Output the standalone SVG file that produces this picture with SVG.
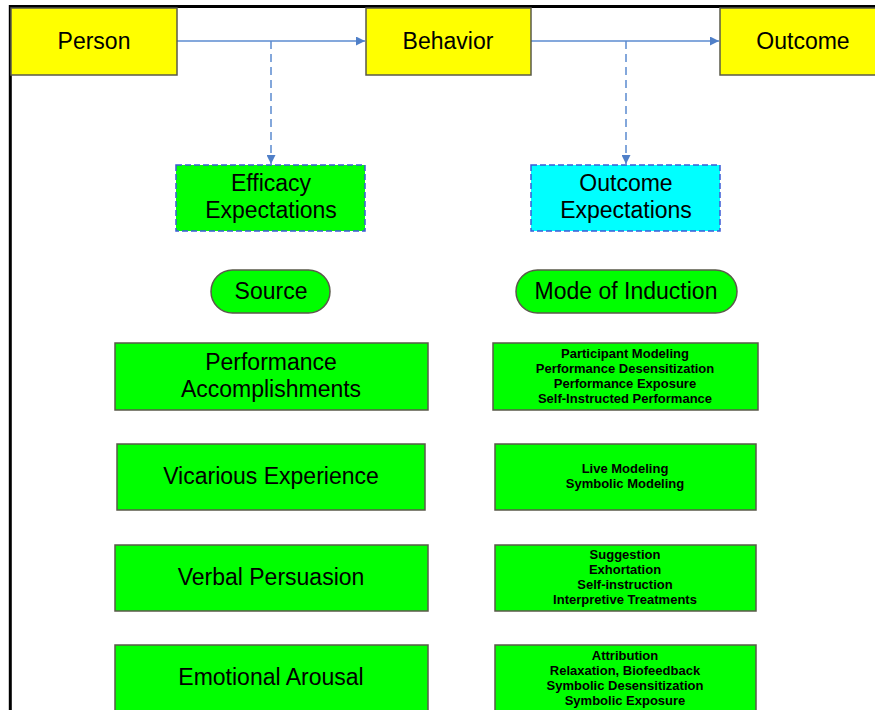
<svg xmlns="http://www.w3.org/2000/svg" width="875" height="710" viewBox="0 0 875 710">
<style>
.box{stroke:#5a5a4a;stroke-width:1.5}
.y{fill:#FFFF00}
.g{fill:#00FF00}
.c{fill:#00FFFF}
.dash{stroke:#3B5BD6;stroke-width:1.5;stroke-dasharray:6 3}
.t{font-family:"Liberation Sans",Arial,sans-serif;font-size:23px;fill:#000;text-anchor:middle}
.s{font-family:"Liberation Sans",Arial,sans-serif;font-size:13px;font-weight:bold;fill:#000;text-anchor:middle}
.conn{stroke:#5B8BD0;stroke-width:1.5;fill:none}
.dc{stroke-dasharray:8 5}
</style>
<defs>
<marker id="ah" viewBox="0 0 10 10" refX="10" refY="5" markerWidth="9" markerHeight="9" markerUnits="userSpaceOnUse" orient="auto">
<path d="M0,0 L10,5 L0,10 z" fill="#4F7FC8"/>
</marker>
</defs>
<rect x="0" y="0" width="875" height="710" fill="#fff"/>
<g id="frame">
<line x1="9" y1="6.5" x2="875" y2="6.5" stroke="#000" stroke-width="3"/>
<line x1="10.3" y1="5" x2="10.3" y2="710" stroke="#000" stroke-width="3"/>
</g>
<g id="connectors">
<line class="conn" x1="177" y1="41" x2="365" y2="41" marker-end="url(#ah)"/>
<line class="conn" x1="531" y1="41" x2="719" y2="41" marker-end="url(#ah)"/>
<line class="conn dc" x1="271" y1="41" x2="271" y2="164" marker-end="url(#ah)"/>
<line class="conn dc" x1="626" y1="41" x2="626" y2="164" marker-end="url(#ah)"/>
</g>
<g id="person"><rect class="box y" x="11" y="8" width="166" height="67"/><text class="t" x="94" y="49">Person</text></g>
<g id="behavior"><rect class="box y" x="366" y="8" width="165" height="67"/><text class="t" x="448" y="49">Behavior</text></g>
<g id="outcome"><rect class="box y" x="720" y="8" width="170" height="67"/><text class="t" x="803" y="49">Outcome</text></g>
<g id="efficacy"><rect class="g dash" x="176" y="165" width="189" height="66"/><text class="t" x="271" y="191">Efficacy</text><text class="t" x="271" y="218">Expectations</text></g>
<g id="outcome-exp"><rect class="c dash" x="531" y="165" width="189" height="66"/><text class="t" x="626" y="191">Outcome</text><text class="t" x="626" y="218">Expectations</text></g>
<g id="source"><rect class="box g" x="211" y="270" width="119" height="43" rx="21.5"/><text class="t" x="271" y="299">Source</text></g>
<g id="mode"><rect class="box g" x="516" y="270" width="221" height="43" rx="21.5"/><text class="t" x="626" y="299">Mode of Induction</text></g>
<g id="performance"><rect class="box g" x="115" y="343" width="313" height="67"/><text class="t" x="271" y="370">Performance</text><text class="t" x="271" y="397">Accomplishments</text></g>
<g id="performance-modes"><rect class="box g" x="493" y="343" width="265" height="67"/>
<text class="s" x="625" y="358">Participant Modeling</text><text class="s" x="625" y="373">Performance Desensitization</text><text class="s" x="625" y="388">Performance Exposure</text><text class="s" x="625" y="403">Self-Instructed Performance</text></g>
<g id="vicarious"><rect class="box g" x="117" y="444" width="308" height="66"/><text class="t" x="271" y="484">Vicarious Experience</text></g>
<g id="vicarious-modes"><rect class="box g" x="495" y="444" width="261" height="66"/>
<text class="s" x="625" y="473">Live Modeling</text><text class="s" x="625" y="488">Symbolic Modeling</text></g>
<g id="verbal"><rect class="box g" x="115" y="545" width="313" height="66"/><text class="t" x="271" y="585">Verbal Persuasion</text></g>
<g id="verbal-modes"><rect class="box g" x="495" y="545" width="261" height="66"/>
<text class="s" x="625" y="559">Suggestion</text><text class="s" x="625" y="574">Exhortation</text><text class="s" x="625" y="589">Self-instruction</text><text class="s" x="625" y="604">Interpretive Treatments</text></g>
<g id="emotional"><rect class="box g" x="115" y="645" width="313" height="80"/><text class="t" x="271" y="685">Emotional Arousal</text></g>
<g id="emotional-modes"><rect class="box g" x="495" y="645" width="261" height="80"/>
<text class="s" x="625" y="660">Attribution</text><text class="s" x="625" y="675">Relaxation, Biofeedback</text><text class="s" x="625" y="690">Symbolic Desensitization</text><text class="s" x="625" y="705">Symbolic Exposure</text></g>
</svg>
